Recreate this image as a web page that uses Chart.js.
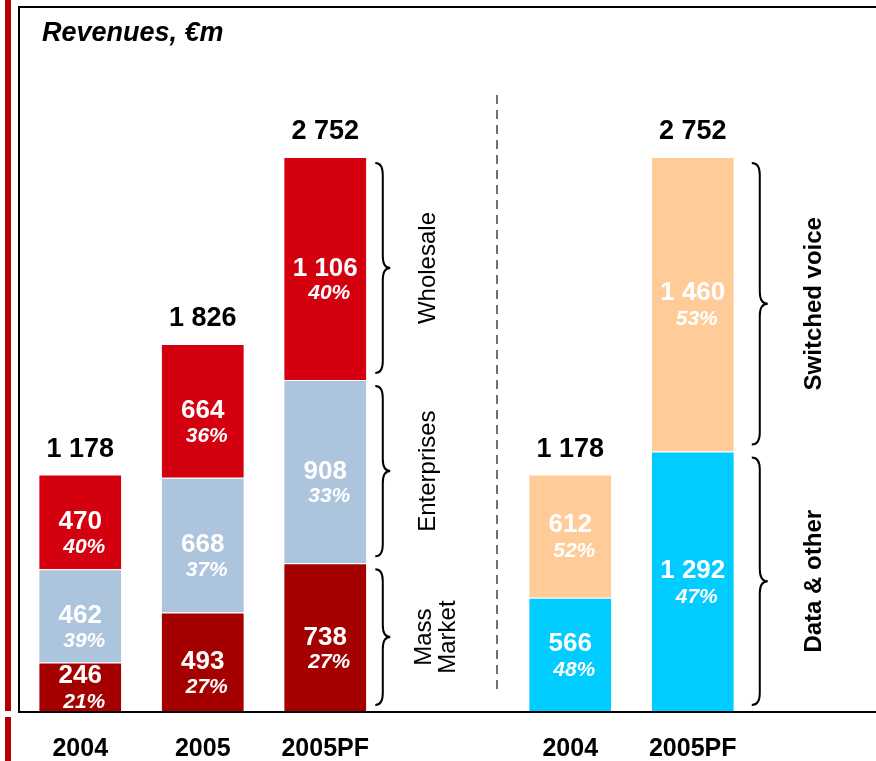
<!DOCTYPE html>
<html>
<head>
<meta charset="utf-8">
<script src="https://cdn.jsdelivr.net/npm/chart.js@4.4.1/dist/chart.umd.min.js"></script>
<style>
html,body{margin:0;padding:0;background:#fff;}
#wrap{position:relative;width:876px;height:761px;}
</style>
</head>
<body>
<div id="wrap"><canvas id="c"></canvas></div>
<script>
const title = 'Revenues, €m';
const categories = ['2004', '2005', '2005PF', '', '2004', '2005PF'];
const segmentNames = ['Mass\nMarket', 'Enterprises', 'Wholesale', 'Data & other', 'Switched voice'];
const massMarket = [246, 493, 738, null, null, null];
const enterprises = [462, 668, 908, null, null, null];
const wholesale = [470, 664, 1106, null, null, null];
const dataOther = [null, null, null, null, 566, 1292];
const switchedVoice = [null, null, null, null, 612, 1460];
const massMarketPct = [21, 27, 27, null, null, null];
const enterprisesPct = [39, 37, 33, null, null, null];
const wholesalePct = [40, 36, 40, null, null, null];
const dataOtherPct = [null, null, null, null, 48, 47];
const switchedVoicePct = [null, null, null, null, 52, 53];
const totals = [1178, 1826, 2752, null, 1178, 2752];

const FONT = '"Liberation Sans", Arial, Helvetica, sans-serif';
const colors = ['#A50000', '#ADC4DD', '#D5000F', '#00CCFF', '#FFCC99'];
const pcts = [massMarketPct, enterprisesPct, wholesalePct, dataOtherPct, switchedVoicePct];

function fmt(v) {
  return String(v).replace(/\B(?=(\d{3})+(?!\d))/g, ' ');
}

function brace(ctx, x, top, bot, w) {
  const mid = (top + bot) / 2, h = w / 2, r = Math.min(12, (bot - top) / 8);
  ctx.beginPath();
  ctx.moveTo(x, top);
  ctx.quadraticCurveTo(x + h, top, x + h, top + r);
  ctx.lineTo(x + h, mid - r);
  ctx.quadraticCurveTo(x + h, mid, x + w, mid);
  ctx.quadraticCurveTo(x + h, mid, x + h, mid + r);
  ctx.lineTo(x + h, bot - r);
  ctx.quadraticCurveTo(x + h, bot, x, bot);
  ctx.stroke();
}

const decor = {
  id: 'decor',
  beforeDraw(chart) {
    const ctx = chart.ctx;
    ctx.save();
    ctx.fillStyle = '#fff';
    ctx.fillRect(0, 0, chart.width, chart.height);
    ctx.restore();
  },
  afterDatasetsDraw(chart) {
    const ctx = chart.ctx;
    const ca = chart.chartArea;
    const ys = chart.scales.y;
    const base = ys.getPixelForValue(0);
    ctx.save();
    // red side bar
    ctx.fillStyle = '#B00000';
    ctx.fillRect(5, 0, 6, base - 1);
    ctx.fillRect(5, base + 5, 6, chart.height - base - 5);
    // frame
    ctx.strokeStyle = '#000';
    ctx.lineWidth = 2;
    ctx.beginPath();
    ctx.moveTo(chart.width, 7);
    ctx.lineTo(ca.left, 7);
    ctx.lineTo(ca.left, base);
    ctx.lineTo(chart.width, base);
    ctx.stroke();
    // dashed separator
    ctx.strokeStyle = '#444';
    ctx.lineWidth = 1.5;
    ctx.setLineDash([9, 6]);
    ctx.beginPath();
    ctx.moveTo(497, 95);
    ctx.lineTo(497, 690);
    ctx.stroke();
    ctx.setLineDash([]);
    // title
    ctx.fillStyle = '#000';
    ctx.font = 'italic bold 27px ' + FONT;
    ctx.textAlign = 'left';
    ctx.textBaseline = 'alphabetic';
    ctx.fillText(title, 42, 41);

    // segment labels
    ctx.textAlign = 'center';
    ctx.textBaseline = 'middle';
    chart.data.datasets.forEach((ds, di) => {
      const meta = chart.getDatasetMeta(di);
      const right = di >= 3;
      meta.data.forEach((el, i) => {
        const v = ds.data[i];
        if (v == null) return;
        const mid = (el.y + el.base) / 2;
        const centred = right || (el.base - el.y) < 60;
        const vy = centred ? mid - 11 : mid;
        const py = centred ? mid + 15 : mid + 25;
        ctx.fillStyle = '#fff';
        ctx.font = 'bold 26px ' + FONT;
        ctx.fillText(fmt(v), el.x, vy);
        ctx.font = 'italic bold 21px ' + FONT;
        ctx.fillText(pcts[di][i] + '%', el.x + 4, py);
      });
    });

    // totals
    const topIdx = [2, 2, 2, null, 4, 4];
    ctx.fillStyle = '#000';
    ctx.font = 'bold 27px ' + FONT;
    totals.forEach((t, i) => {
      if (t == null) return;
      const el = chart.getDatasetMeta(topIdx[i]).data[i];
      ctx.fillText(fmt(t), el.x, el.y - 25);
    });

    // category labels
    ctx.font = 'bold 25px ' + FONT;
    const xs = chart.scales.x;
    categories.forEach((c, i) => {
      if (!c) return;
      ctx.fillText(c, xs.getPixelForValue(i), 749);
    });

    // braces and their labels
    ctx.strokeStyle = '#000';
    ctx.lineWidth = 2;
    chart.data.datasets.forEach((ds, di) => {
      const meta = chart.getDatasetMeta(di);
      const right = di >= 3;
      const idx = right ? 5 : 2;
      const el = meta.data[idx];
      const half = el.width / 2;
      const barRight = el.x + half;
      const top = el.y + 6, bot = el.base - 7;
      const bx = barRight + (right ? 18 : 9);
      brace(ctx, bx, top, bot, right ? 16 : 15);
      const lines = segmentNames[di].split('\n');
      const n = lines.length;
      const cx = barRight + (right ? 81 : 62);
      const cy = (top + bot) / 2;
      ctx.save();
      ctx.fillStyle = '#000';
      ctx.font = (right ? 'bold ' : '') + '24px ' + FONT;
      ctx.translate(cx, cy);
      ctx.rotate(-Math.PI / 2);
      lines.forEach((ln, li) => {
        const off = (li - (n - 1) / 2) * 24 + (n - 1) * 8;
        ctx.fillText(ln, 0, off);
      });
      ctx.restore();
    });
    ctx.restore();
  }
};

const seriesData = [massMarket, enterprises, wholesale, dataOther, switchedVoice];
new Chart(document.getElementById('c'), {
  type: 'bar',
  data: {
    labels: categories,
    datasets: seriesData.map((d, i) => ({
      label: segmentNames[i].replace('\n', ' '),
      data: d,
      backgroundColor: colors[i],
      borderColor: '#fff',
      borderWidth: {top: 1, bottom: 0, left: 0, right: 0},
      borderSkipped: false,
      barPercentage: 0.67,
      categoryPercentage: 1
    }))
  },
  options: {
    responsive: true,
    maintainAspectRatio: false,
    animation: false,
    layout: {padding: {left: 19, right: 122, top: 107, bottom: 49}},
    plugins: {legend: {display: false}, tooltip: {enabled: false}, title: {display: false}},
    scales: {
      x: {stacked: true, display: false},
      y: {stacked: true, display: false, min: 0, max: 3000}
    }
  },
  plugins: [decor]
});
</script>
</body>
</html>
